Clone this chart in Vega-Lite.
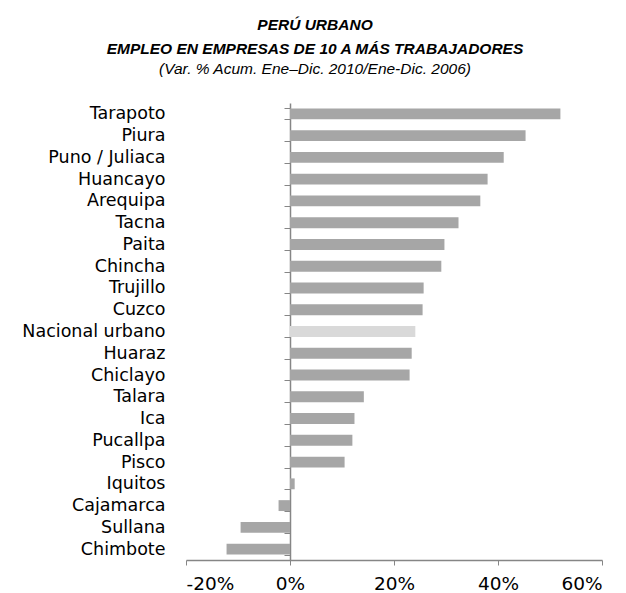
{
  "$schema": "https://vega.github.io/schema/vega-lite/v6.json",
  "autosize": "none",
  "width": 416,
  "height": 457,
  "padding": {"left": 186, "top": 103, "right": 24, "bottom": 33},
  "background": "white",
  "title": {
    "text": ["PERÚ URBANO", "EMPLEO EN EMPRESAS DE 10 A MÁS TRABAJADORES"],
    "subtitle": "(Var. % Acum. Ene–Dic. 2010/Ene-Dic. 2006)",
    "anchor": "middle",
    "dx": -79,
    "offset": 17,
    "font": "Liberation Sans",
    "fontSize": 15.5,
    "fontStyle": "italic",
    "fontWeight": "bold",
    "lineHeight": 24,
    "color": "#000000",
    "subtitleFont": "Liberation Sans",
    "subtitleFontSize": 15.5,
    "subtitleFontStyle": "italic",
    "subtitleColor": "#000000",
    "subtitlePadding": 4
  },
  "config": {"view": {"stroke": null}},
  "data": {
    "values": [
      {"ciudad": "Tarapoto", "var": 52.0, "tipo": "ciudad"},
      {"ciudad": "Piura", "var": 45.3, "tipo": "ciudad"},
      {"ciudad": "Puno / Juliaca", "var": 41.1, "tipo": "ciudad"},
      {"ciudad": "Huancayo", "var": 38.0, "tipo": "ciudad"},
      {"ciudad": "Arequipa ", "var": 36.6, "tipo": "ciudad"},
      {"ciudad": "Tacna", "var": 32.4, "tipo": "ciudad"},
      {"ciudad": "Paita", "var": 29.7, "tipo": "ciudad"},
      {"ciudad": "Chincha", "var": 29.1, "tipo": "ciudad"},
      {"ciudad": "Trujillo", "var": 25.7, "tipo": "ciudad"},
      {"ciudad": "Cuzco ", "var": 25.5, "tipo": "ciudad"},
      {"ciudad": "Nacional urbano", "var": 24.1, "tipo": "nacional"},
      {"ciudad": "Huaraz ", "var": 23.4, "tipo": "ciudad"},
      {"ciudad": "Chiclayo", "var": 23.0, "tipo": "ciudad"},
      {"ciudad": "Talara", "var": 14.2, "tipo": "ciudad"},
      {"ciudad": "Ica ", "var": 12.4, "tipo": "ciudad"},
      {"ciudad": "Pucallpa", "var": 12.0, "tipo": "ciudad"},
      {"ciudad": "Pisco", "var": 10.5, "tipo": "ciudad"},
      {"ciudad": "Iquitos ", "var": 0.9, "tipo": "ciudad"},
      {"ciudad": "Cajamarca", "var": -2.2, "tipo": "ciudad"},
      {"ciudad": "Sullana ", "var": -9.5, "tipo": "ciudad"},
      {"ciudad": "Chimbote ", "var": -12.2, "tipo": "ciudad"}
    ]
  },
  "mark": {"type": "bar"},
  "encoding": {
    "y": {
      "field": "ciudad",
      "type": "nominal",
      "sort": null,
      "scale": {"paddingInner": 0.5, "paddingOuter": 0.25},
      "axis": {
        "title": null,
        "offset": -104,
        "tickBand": "extent",
        "tickSize": 6,
        "tickColor": "#868686",
        "domainColor": "#868686",
        "domainWidth": 1.5,
        "labelPadding": 119,
        "labelFont": "DejaVu Sans",
        "labelFontSize": 17.5,
        "labelColor": "#000000",
        "labelLimit": 300
      }
    },
    "x": {
      "field": "var",
      "type": "quantitative",
      "scale": {"domain": [-20, 60], "nice": false, "zero": false},
      "axis": {
        "title": null,
        "values": [-20, 0, 20, 40, 60],
        "grid": false,
        "tickSize": 5,
        "tickColor": "#868686",
        "domainColor": "#868686",
        "domainWidth": 1.5,
        "labelExpr": "datum.value + '%'",
        "labelPadding": 9,
        "labelFont": "DejaVu Sans",
        "labelFontSize": 18.5,
        "labelColor": "#000000"
      }
    },
    "color": {
      "field": "tipo",
      "type": "nominal",
      "scale": {"domain": ["ciudad", "nacional"], "range": ["#a6a6a6", "#d9d9d9"]},
      "legend": null
    }
  }
}
